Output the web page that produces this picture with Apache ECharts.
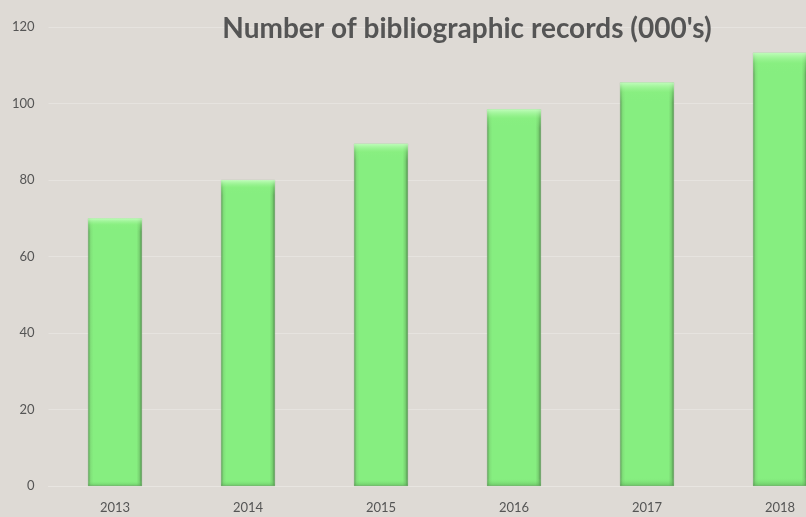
<!DOCTYPE html>
<html>
<head>
<meta charset="utf-8">
<script src="https://cdn.jsdelivr.net/npm/echarts@6/dist/echarts.min.js"></script>
<style>
html,body{margin:0;padding:0;background:#dedad5;}
#c{width:806px;height:517px;}
</style>
</head>
<body>
<div id="c"></div>
<script>
const categories = ['2013','2014','2015','2016','2017','2018'];
const records = [70, 80, 89.5, 98.5, 105.5, 113.3];
const yTicks = [0, 20, 40, 60, 80, 100, 120];

const chart = echarts.init(document.getElementById('c'));
chart.setOption({
  backgroundColor: '#dedad5',
  animation: false,
  title: {
    text: "Number of bibliographic records (000's)",
    left: 462, top: 10, textAlign: 'center',
    textStyle: { fontFamily: 'Lato', fontWeight: 'bold', fontSize: 28, color: '#555555' }
  },
  grid: { left: 48.5, width: 798, top: 27, height: 459, outerBoundsMode: 'none', containLabel: false },
  xAxis: {
    type: 'category', data: categories,
    axisLine: { show: true, lineStyle: { color: '#e8e5e1', width: 1 } },
    axisTick: { show: false },
    axisLabel: { margin: 15, color: '#555555', fontFamily: 'Lato', fontSize: 13 }
  },
  yAxis: {
    type: 'value', min: yTicks[0], max: yTicks[yTicks.length-1], interval: 20,
    axisLine: { show: false }, axisTick: { show: false },
    axisLabel: { margin: 14, color: '#555555', fontFamily: 'Lato', fontSize: 13 },
    splitLine: { lineStyle: { color: '#e6e3df', width: 1 } }
  },
  series: [{
    type: 'bar', data: records, barWidth: 54,
    itemStyle: {
      color: new echarts.graphic.LinearGradient(0, 0, 1, 0, [
        { offset: 0, color: '#5f9e5a' },
        { offset: 0.05, color: '#80e079' },
        { offset: 0.1, color: '#86ee80' },
        { offset: 0.9, color: '#86ee80' },
        { offset: 0.95, color: '#78d271' },
        { offset: 1, color: '#4f8a4b' }
      ]),
      borderColor: 'rgba(110,170,105,0.6)', borderWidth: 0.5
    }
  }, {
    type: 'bar', data: records, barWidth: 54, barGap: '-100%', silent: true,
    itemStyle: {
      color: new echarts.graphic.LinearGradient(0, 0, 0, 1, [
        { offset: 0, color: 'rgba(200,255,195,0.9)' },
        { offset: 0.025, color: 'rgba(140,240,130,0.4)' },
        { offset: 0.05, color: 'rgba(134,238,128,0)' },
        { offset: 0.98, color: 'rgba(134,238,128,0)' },
        { offset: 1, color: 'rgba(80,150,75,0.5)' }
      ])
    }
  }]
});
</script>
</body>
</html>
